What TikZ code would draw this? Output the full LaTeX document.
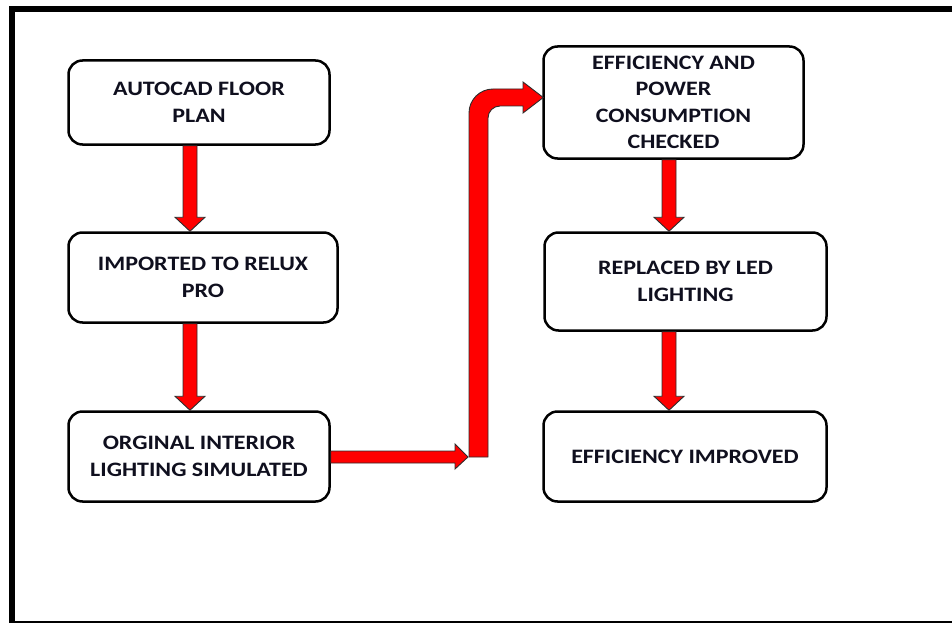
\documentclass[tikz,border=0pt]{standalone}
\usepackage{fontspec}
\setmainfont{Carlito}[FakeStretch=1.17]
\usetikzlibrary{calc}
\definecolor{arrowred}{RGB}{255,0,0}
\definecolor{arrowline}{RGB}{45,45,45}
\definecolor{txt}{RGB}{15,15,30}
\tikzset{
  stepbox/.style={draw=black, line width=2.5pt, rounded corners=14pt, fill=white,
    align=center, inner sep=0pt, text=txt,
    font=\fontsize{20.5}{26.5}\selectfont\bfseries},
  blockarrow/.style={fill=arrowred, draw=arrowline, line width=0.9pt, line join=miter},
  framestyle/.style={draw=black, line width=6pt},
}
\begin{document}
\begin{tikzpicture}
\useasboundingbox (0pt,0pt) rectangle (952pt,-623pt);
\begin{scope}
\clip (0pt,0pt) rectangle (952pt,-623pt);
\draw[framestyle, line cap=rect] (12pt,-624pt) -- (12pt,-9pt) -- (952pt,-9pt);
\draw[line width=4pt] (12pt,-622.5pt) -- (952pt,-622.5pt);
\end{scope}

% nodes
\node[stepbox, minimum width=261pt, minimum height=84pt] (b1) at (199pt,-102.5pt) {AUTOCAD FLOOR\\PLAN};
\node[stepbox, minimum width=269pt, minimum height=90pt] (b2) at (203pt,-277.5pt) {IMPORTED TO RELUX\\PRO};
\node[stepbox, minimum width=261pt, minimum height=90pt] (b3) at (199pt,-456.5pt) {ORGINAL INTERIOR\\LIGHTING SIMULATED};
\node[stepbox, minimum width=260pt, minimum height=112pt] (b4) at (673.5pt,-102.5pt) {EFFICIENCY AND\\POWER\\CONSUMPTION\\CHECKED};
\node[stepbox, minimum width=282pt, minimum height=98pt] (b5) at (685.5pt,-281.5pt) {REPLACED BY LED\\LIGHTING};
\node[stepbox, minimum width=283pt, minimum height=90pt] (b6) at (685pt,-456.5pt) {EFFICIENCY IMPROVED};

% down arrows
\path[blockarrow] let \p1=(b1.south), \p2=(b2.north) in
  (183pt,\y1) -- (197pt,\y1) -- (197pt,\y2+14pt) -- (205pt,\y2+14pt) -- (190pt,\y2)
  -- (175pt,\y2+14pt) -- (183pt,\y2+14pt) -- cycle;
\path[blockarrow] let \p1=(b2.south), \p2=(b3.north) in
  (183pt,\y1) -- (197pt,\y1) -- (197pt,\y2+14pt) -- (205pt,\y2+14pt) -- (190pt,\y2)
  -- (175pt,\y2+14pt) -- (183pt,\y2+14pt) -- cycle;
\path[blockarrow] let \p1=(b4.south), \p2=(b5.north) in
  (662pt,\y1) -- (676pt,\y1) -- (676pt,\y2+14pt) -- (684pt,\y2+14pt) -- (669pt,\y2)
  -- (654pt,\y2+14pt) -- (662pt,\y2+14pt) -- cycle;
\path[blockarrow] let \p1=(b5.south), \p2=(b6.north) in
  (662pt,\y1) -- (676pt,\y1) -- (676pt,\y2+14pt) -- (684pt,\y2+14pt) -- (669pt,\y2)
  -- (654pt,\y2+14pt) -- (662pt,\y2+14pt) -- cycle;

% elbow connector
\coordinate (bend) at (469pt,-457pt);
\path[blockarrow] let \p1=(b3.east), \p2=(bend) in
  (\x1,\y2+6pt) -- (\x2-14pt,\y2+6pt) -- (\x2-14pt,\y2+13pt) -- (\x2-1pt,\y2)
  -- (\x2-14pt,\y2-12pt) -- (\x2-14pt,\y2-6pt) -- (\x1,\y2-6pt) -- cycle;
\path[blockarrow] let \p1=(bend), \p2=(b4.west) in
  (\x1,\y1) -- (\x1,-113pt) arc[start angle=180, end angle=90, radius=24pt]
  -- (523pt,-89pt) -- (523pt,-82pt) -- (\x2+1pt,-97.5pt) -- (523pt,-113pt)
  -- (523pt,-106pt) -- (500pt,-106pt) arc[start angle=90, end angle=180, radius=12pt]
  -- (488pt,\y1) -- cycle;
\end{tikzpicture}
\end{document}
